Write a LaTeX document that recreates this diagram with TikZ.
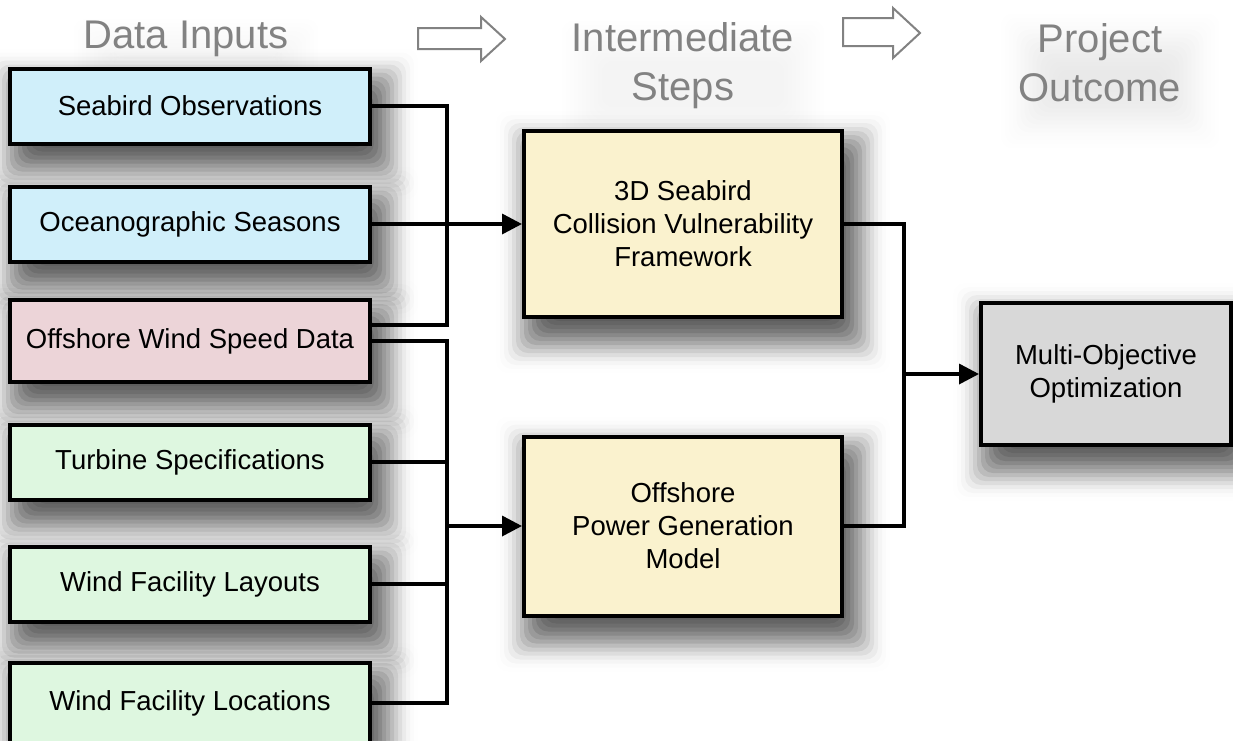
\documentclass[tikz,border=0pt]{standalone}
\usepackage{fontspec}
\setmainfont{Liberation Sans}
\usetikzlibrary{arrows.meta,backgrounds}

\definecolor{inblue}{RGB}{208,239,250}
\definecolor{inpink}{RGB}{236,212,216}
\definecolor{ingreen}{RGB}{222,247,224}
\definecolor{stepyellow}{RGB}{250,242,206}
\definecolor{outgray}{RGB}{216,216,216}
\definecolor{headgray}{RGB}{130,130,130}

\tikzset{
  box/.style={draw=black, line width=4pt, align=center, inner sep=0pt,
    font=\fontsize{27.5}{33}\selectfont},
  inbox/.style={box, minimum width=360pt, minimum height=75pt},
  stepbox/.style={box, fill=stepyellow, minimum width=318pt},
  link/.style={line width=3.5pt},
  feed/.style={link, -{Triangle[length=20pt,width=20pt]}},
  header/.style={text=headgray, font=\fontsize{40}{49}\selectfont,
    align=center, inner sep=0pt},
  hollow/.style={draw=headgray, fill=white, line width=2pt, line join=miter}
}

% soft drop shadow: nested translucent rectangles whose opacities
% follow a bell curve, giving a smooth fall-off
% #1 node name, #2 peak opacity of one layer
\newcommand\softshade[2]{%
  \foreach \k in {0,...,20}{%
    \pgfmathsetmacro\layerop{#2*pow(sin(180*(\k+0.5)/21),2)}%
    \fill[black, fill opacity=\layerop, rounded corners=12pt]
      ([xshift={(50-4*\k)*1pt}, yshift={(22-4*\k)*1pt}]#1.south west)
      rectangle
      ([xshift={(-30+4*\k)*1pt}, yshift={(-58+4*\k)*1pt}]#1.north east);
  }%
}

\begin{document}
\begin{tikzpicture}[x=1pt,y=-1pt]
  \useasboundingbox (0,0) rectangle (1233,740);

  % column headings
  \node[header] (hin)  at (186,39) {Data Inputs};
  \node[header] (hmid) at (683,66) {Intermediate\\Steps};
  \node[header] (hout) at (1100,63) {Project\\Outcome};

  % hollow arrows between the headings
  \draw[hollow] (418,28) -- (481,28) -- (481,17) -- (505,39)
                -- (481,61) -- (481,49) -- (418,49) -- cycle;
  \draw[hollow] (843,18) -- (893,18) -- (893,8) -- (920,33)
                -- (893,58) -- (893,46) -- (843,46) -- cycle;

  % data inputs
  \node[inbox, fill=inblue] (seabird) at (190,106) {Seabird Observations};
  \node[inbox, fill=inblue] (seasons) at (190,224) {Oceanographic Seasons};
  \node[inbox, fill=inpink, minimum height=82pt] (wind) at (190,341) {Offshore Wind Speed Data};
  \node[inbox, fill=ingreen] (turbine) at (190,462) {Turbine Specifications};
  \node[inbox, fill=ingreen] (layouts) at (190,584) {Wind Facility Layouts};
  \node[inbox, fill=ingreen, minimum height=80pt] (locations) at (190,703) {Wind Facility Locations};

  % intermediate steps
  \node[stepbox, minimum height=186pt] (vuln) at (683,224)
    {3D Seabird\\Collision Vulnerability\\Framework};
  \node[stepbox, minimum height=179pt] (power) at (683,526)
    {Offshore\\Power Generation\\Model};

  % outcome
  \node[box, fill=outgray, minimum width=250pt, minimum height=142pt] (multi)
    at (1106,374) {Multi-Objective\\Optimization};

  % bus lines
  \coordinate (busA) at (447,0);
  \coordinate (busB) at (904,0);
  \coordinate (windtop) at ([yshift=16pt]wind.east);

  \draw[link] (seabird.east) -| (busA |- windtop) -- (windtop);
  \draw[feed] (seasons.east) -- (vuln.west);

  \draw[link] (wind.east) -| (busA |- locations.east) -- (locations.east);
  \draw[link] (turbine.east) -- (busA |- turbine.east);
  \draw[link] (layouts.east) -- (busA |- layouts.east);
  \draw[feed] (busA |- power.west) -- (power.west);

  \draw[link] (vuln.east) -| (busB |- power.east) -- (power.east);
  \draw[feed] (busB |- multi.west) -- (multi.west);

  % paper and shadows behind everything
  \begin{scope}[on background layer]
    \clip (0,0) rectangle (1233,740);
    \fill[white] (0,0) rectangle (1233,740);
    \softshade{hin}{0.005}
    \softshade{hmid}{0.005}
    \softshade{hout}{0.008}
    \foreach \n in {seabird,seasons,wind,turbine,layouts,locations,vuln,power,multi}{
      \softshade{\n}{0.10}
    }
  \end{scope}
\end{tikzpicture}
\end{document}
